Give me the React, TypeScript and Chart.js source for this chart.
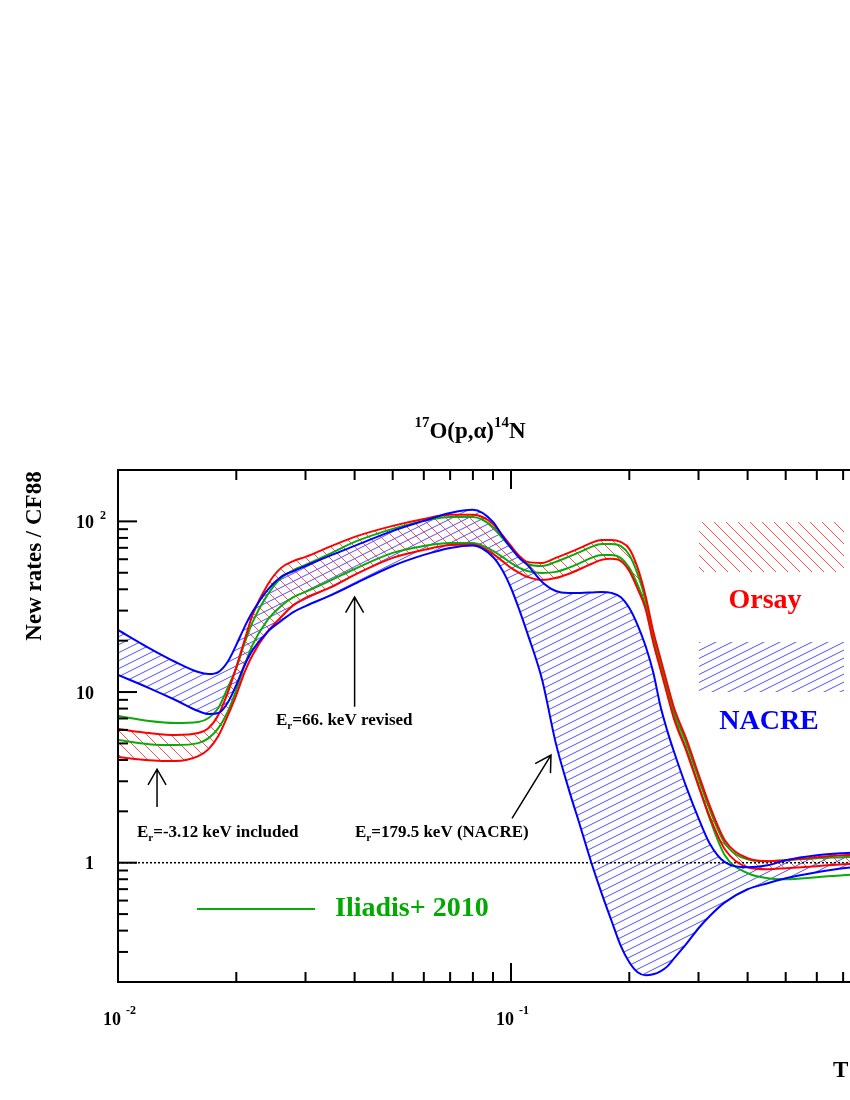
import React, { useEffect, useRef } from 'react';
import { Chart, registerables } from 'chart.js';

Chart.register(...registerables);

// Temperature grid (T9)
const temperatures = [
  0.01, 0.012, 0.014, 0.016, 0.017, 0.018, 0.019, 0.02,
  0.021, 0.022, 0.024, 0.026, 0.028, 0.03,
  0.035, 0.04, 0.05, 0.06, 0.07, 0.08, 0.09, 0.095,
  0.1, 0.105, 0.11, 0.12, 0.13, 0.14, 0.15, 0.16, 0.17, 0.18, 0.19,
  0.2, 0.21, 0.22, 0.23, 0.24, 0.25, 0.26, 0.28,
  0.3, 0.32, 0.35, 0.4, 0.45, 0.5, 0.6, 0.7, 0.8, 1.0,
];

const nacreUpper = [
  23.1, 18.1, 15.0, 13.1, 12.75, 13.1, 15.0, 18.9,
  24.1, 29.5, 39.6, 47.3, 51.2, 54.8,
  63.6, 71.8, 88.0, 100.7, 112, 117, 99.3, 82.2,
  69.9, 61.1, 55.6, 44.2, 39.1, 38.1, 38.1, 38.3, 38.6, 38.1, 36.1,
  31.1, 24.7, 18.6, 13.1, 8.28, 5.9, 4.45, 2.735,
  1.824, 1.301, 1.007, 0.941, 0.967, 1.034, 1.106, 1.137, 1.152, 1.168,
];

const nacreLower = [
  12.6, 10.55, 8.98, 7.74, 7.43, 7.53, 8.62, 11.0,
  14.4, 17.6, 22.5, 26.1, 29.5, 31.9,
  37.1, 43.0, 54.8, 63.6, 69.9, 72.3, 61.9, 51.9,
  40.7, 30.3, 22.2, 11.8, 5.02, 2.735, 1.637, 1.007, 0.663, 0.46, 0.328,
  0.261, 0.228, 0.219, 0.222, 0.231, 0.247, 0.275, 0.337,
  0.413, 0.486, 0.586, 0.699, 0.758, 0.811, 0.88, 0.928, 0.954, 0.98,
];

const orsayUpper = [
  6.07, 5.75, 5.6, 5.75, 6.15, 7.33, 9.86, 14.0,
  20.2, 28.3, 42.4, 53.4, 58.7, 61.9,
  71.8, 81.1, 94.1, 103.4, 109.2, 109.2, 96.7, 83.3,
  71.8, 62.8, 57.9, 57.1, 61.1, 65.4, 69.9, 74.8, 77.9, 77.9, 75.8,
  69.0, 53.4, 36.6, 22.8, 15.8, 11.1, 8.06, 5.23,
  3.3, 2.174, 1.355, 1.063, 1.02, 1.034, 1.077, 1.106, 1.122, 1.137,
];

const orsayLower = [
  4.16, 3.99, 3.94, 4.21, 4.63, 5.52, 7.23, 9.6,
  13.1, 16.5, 22.5, 27.5, 32.4, 35.6,
  41.3, 48.6, 61.1, 68.1, 72.8, 73.3, 64.5, 58.7,
  53.4, 49.9, 47.3, 45.4, 46.6, 49.2, 52.6, 56.3, 59.5, 60.3, 58.7,
  51.2, 40.2, 30.7, 19.6, 13.6, 9.6, 6.94, 4.45,
  2.81, 1.874, 1.2, 0.941, 0.916, 0.928, 0.954, 0.98, 0.993, 1.003,
];

const iliadisUpper = [
  7.23, 6.76, 6.58, 6.67, 7.04, 8.06, 10.55, 13.8,
  19.4, 25.7, 37.1, 46.6, 51.9, 55.6,
  65.4, 75.8, 90.4, 100.7, 106.2, 106.2, 92.8, 80.0,
  69.9, 61.1, 56.3, 54.8, 57.9, 61.9, 66.2, 70.9, 73.8, 73.8, 71.8,
  63.6, 49.2, 34.6, 21.6, 15.0, 10.55, 7.63, 4.95,
  3.13, 2.06, 1.301, 1.048, 1.02, 1.034, 1.063, 1.077, 1.092, 1.106,
];

const iliadisLower = [
  5.23, 4.95, 4.89, 5.02, 5.37, 6.15, 7.63, 10.3,
  14.4, 18.9, 26.4, 31.9, 36.1, 38.6,
  45.4, 52.6, 65.4, 71.8, 74.8, 74.8, 67.1, 61.9,
  57.1, 53.4, 51.2, 49.9, 50.6, 53.4, 57.1, 61.1, 63.6, 63.6, 61.1,
  53.4, 42.4, 31.9, 20.2, 14.0, 9.86, 7.13, 4.57,
  2.85, 1.824, 1.106, 0.868, 0.811, 0.8, 0.822, 0.845, 0.856, 0.88,
];

const referenceT = [0.01, 1];
const referenceRatio = [1, 1];

const xMajorTicks = [0.01, 0.1, 1];
const xMinorTicks = [0.02, 0.03, 0.04, 0.05, 0.06, 0.07, 0.08, 0.09, 0.2, 0.3, 0.4, 0.5, 0.6, 0.7, 0.8, 0.9];
const yMajorTicks = [1, 10, 100];
const yMinorTicks = [0.3, 0.4, 0.5, 0.6, 0.7, 0.8, 0.9, 2, 3, 4, 5, 6, 7, 8, 9, 20, 30, 40, 50, 60, 70, 80, 90];

const xTickLabels = [
  { value: 0.01, base: '10', exp: '-2' },
  { value: 0.1, base: '10', exp: '-1' },
  { value: 1, base: '10', exp: '0' },
];
const yTickLabels = [
  { value: 1, base: '1', exp: '' },
  { value: 10, base: '10', exp: '' },
  { value: 100, base: '10', exp: '2' },
];

// annotation arrows in data coordinates [T, ratio]
const arrowSpecs = [
  { from: [0.04, 8.2], to: [0.04, 36] },
  { from: [0.01257, 2.12], to: [0.01257, 3.53] },
  { from: [0.1006, 1.82], to: [0.1264, 4.27] },
];

const W = 1000;
const H = 1100;
const SERIF = '"Liberation Serif", "Times New Roman", serif';
const BLUE = '#0000ff';
const RED = '#ff0000';
const GREEN = '#0aaa0a';
const GREEN_TEXT = '#00aa00';

const font = (size: number) => `bold ${size}px ${SERIF}`;

function makeHatch(color: string, w: number, h: number, dir: 'up' | 'down'): CanvasPattern {
  const c = document.createElement('canvas');
  c.width = w;
  c.height = h;
  const g = c.getContext('2d') as CanvasRenderingContext2D;
  g.strokeStyle = color;
  g.lineWidth = 1;
  for (let k = -2; k <= 2; k++) {
    g.beginPath();
    if (dir === 'up') {
      g.moveTo(-w, 2 * h + k * h);
      g.lineTo(2 * w, -h + k * h);
    } else {
      g.moveTo(-w, -h + k * h);
      g.lineTo(2 * w, 2 * h + k * h);
    }
    g.stroke();
  }
  return g.createPattern(c, 'repeat') as CanvasPattern;
}

type Seg = { text: string; size: number; dy: number; gap?: number };

function segWidth(ctx: CanvasRenderingContext2D, segs: Seg[]) {
  let w = 0;
  for (const s of segs) {
    ctx.font = font(s.size);
    w += ctx.measureText(s.text).width + (s.gap ?? 0);
  }
  return w;
}

function drawSegs(ctx: CanvasRenderingContext2D, segs: Seg[], x: number, y: number) {
  let cx = x;
  ctx.textAlign = 'left';
  for (const s of segs) {
    ctx.font = font(s.size);
    cx += s.gap ?? 0;
    ctx.fillText(s.text, cx, y + s.dy);
    cx += ctx.measureText(s.text).width;
  }
}

function drawArrow(ctx: CanvasRenderingContext2D, x1: number, y1: number, x2: number, y2: number) {
  const ang = Math.atan2(y1 - y2, x1 - x2);
  const len = 18;
  const spread = Math.PI / 6;
  ctx.beginPath();
  ctx.moveTo(x1, y1);
  ctx.lineTo(x2, y2);
  ctx.moveTo(x2 + len * Math.cos(ang + spread), y2 + len * Math.sin(ang + spread));
  ctx.lineTo(x2, y2);
  ctx.lineTo(x2 + len * Math.cos(ang - spread), y2 + len * Math.sin(ang - spread));
  ctx.stroke();
}

export default function App() {
  const ref = useRef<HTMLCanvasElement>(null);

  useEffect(() => {
    const canvas = ref.current as HTMLCanvasElement;
    const blueHatch = makeHatch('rgb(80,80,255)', 16, 8, 'up');
    const redHatch = makeHatch('rgb(255,80,80)', 12, 12, 'down');

    const pts = (vals: number[]) => temperatures.map((t, i) => ({ x: t, y: vals[i] }));
    const line = (label: string, vals: number[], color: string, extra: any = {}) => ({
      label,
      data: pts(vals),
      borderColor: color,
      borderWidth: 2,
      pointRadius: 0,
      fill: false,
      cubicInterpolationMode: 'monotone',
      ...extra,
    });

    const decor = {
      id: 'decor',
      afterDraw(chart: any) {
        const ctx = chart.ctx as CanvasRenderingContext2D;
        const { left, top, right, bottom } = chart.chartArea;
        const xs = chart.scales.x;
        const ys = chart.scales.y;
        ctx.save();
        ctx.strokeStyle = '#000';
        ctx.lineWidth = 2;
        ctx.strokeRect(left, top, right - left, bottom - top);
        const seg = (a: number, b: number, c: number, d: number) => {
          ctx.beginPath();
          ctx.moveTo(a, b);
          ctx.lineTo(c, d);
          ctx.stroke();
        };
        for (const v of xMajorTicks) {
          const p = xs.getPixelForValue(v);
          seg(p, bottom, p, bottom - 19);
          seg(p, top, p, top + 19);
        }
        for (const v of xMinorTicks) {
          const p = xs.getPixelForValue(v);
          seg(p, bottom, p, bottom - 10);
          seg(p, top, p, top + 10);
        }
        for (const v of yMajorTicks) {
          const p = ys.getPixelForValue(v);
          seg(left, p, left + 19, p);
          seg(right, p, right - 19, p);
        }
        for (const v of yMinorTicks) {
          const p = ys.getPixelForValue(v);
          seg(left, p, left + 10, p);
          seg(right, p, right - 10, p);
        }

        ctx.fillStyle = '#000';
        ctx.textBaseline = 'alphabetic';
        for (const l of yTickLabels) {
          const p = ys.getPixelForValue(l.value);
          ctx.font = font(18);
          ctx.textAlign = 'right';
          ctx.fillText(l.base, left - 24, p + 6.7);
          if (l.exp) {
            ctx.font = font(12);
            ctx.textAlign = 'left';
            ctx.fillText(l.exp, left - 18, p - 2);
          }
        }
        for (const l of xTickLabels) {
          const p = xs.getPixelForValue(l.value);
          ctx.font = font(18);
          ctx.textAlign = 'right';
          ctx.fillText(l.base, p + 3, bottom + 43);
          ctx.font = font(12);
          ctx.textAlign = 'left';
          ctx.fillText(l.exp, p + 8, bottom + 32);
        }

        // title
        const title: Seg[] = [
          { text: '17', size: 15, dy: -11 },
          { text: 'O(p,α)', size: 23, dy: 0 },
          { text: '14', size: 15, dy: -11 },
          { text: 'N', size: 23, dy: 0 },
        ];
        drawSegs(ctx, title, 470 - segWidth(ctx, title) / 2, 438);

        // axis titles
        ctx.save();
        ctx.translate(41, 556);
        ctx.rotate(-Math.PI / 2);
        ctx.font = font(23);
        ctx.textAlign = 'center';
        ctx.fillText('New rates / CF88', 0, 0);
        ctx.restore();
        drawSegs(ctx, [
          { text: 'T', size: 23, dy: 0 },
          { text: '9', size: 15, dy: 5, gap: 4 },
        ], 833, 1077);

        // annotations
        const er = (rest: string): Seg[] => [
          { text: 'E', size: 17, dy: 0 },
          { text: 'r', size: 11, dy: 4 },
          { text: rest, size: 17, dy: 0 },
        ];
        drawSegs(ctx, er('=66. keV revised'), 276, 725);
        drawSegs(ctx, er('=-3.12 keV included'), 137, 837);
        drawSegs(ctx, er('=179.5 keV (NACRE)'), 355, 837);

        ctx.lineWidth = 1.5;
        ctx.strokeStyle = '#000';
        for (const a of arrowSpecs) {
          drawArrow(
            ctx,
            xs.getPixelForValue(a.from[0]),
            ys.getPixelForValue(a.from[1]),
            xs.getPixelForValue(a.to[0]),
            ys.getPixelForValue(a.to[1])
          );
        }

        // legend
        ctx.fillStyle = redHatch;
        ctx.fillRect(699, 522, 145, 50);
        ctx.fillStyle = blueHatch;
        ctx.fillRect(699, 642, 145, 50);
        ctx.font = font(28);
        ctx.textAlign = 'center';
        ctx.fillStyle = RED;
        ctx.fillText('Orsay', 765, 608);
        ctx.fillStyle = BLUE;
        ctx.fillText('NACRE', 769, 729);
        ctx.strokeStyle = GREEN;
        ctx.lineWidth = 2;
        seg(197, 909, 315, 909);
        ctx.fillStyle = GREEN_TEXT;
        ctx.textAlign = 'left';
        ctx.fillText('Iliadis+ 2010', 335, 916);
        ctx.restore();
      },
    };

    const chart = new Chart(canvas, {
      type: 'line',
      data: {
        datasets: [
          line('NACRE upper', nacreUpper, BLUE, { fill: '+1', backgroundColor: blueHatch }),
          line('NACRE lower', nacreLower, BLUE),
          line('Orsay upper', orsayUpper, RED, { fill: '+1', backgroundColor: redHatch }),
          line('Orsay lower', orsayLower, RED),
          line('Iliadis upper', iliadisUpper, GREEN),
          line('Iliadis lower', iliadisLower, GREEN),
          {
            label: 'CF88',
            data: referenceT.map((t, i) => ({ x: t, y: referenceRatio[i] })),
            borderColor: '#000',
            borderWidth: 1.5,
            borderDash: [2, 2],
            pointRadius: 0,
            fill: false,
          },
        ] as any,
      },
      options: {
        animation: false,
        responsive: false,
        devicePixelRatio: 1,
        events: [],
        layout: { padding: { left: 118, top: 470, right: W - 904, bottom: H - 982 } },
        plugins: {
          legend: { display: false },
          tooltip: { enabled: false },
          filler: { drawTime: 'beforeDatasetsDraw' },
        } as any,
        scales: {
          x: {
            type: 'logarithmic',
            min: 0.01,
            max: 1,
            ticks: { display: false },
            grid: { display: false, drawTicks: false },
            border: { display: false },
            afterFit: (s: any) => { s.height = 0; },
          },
          y: {
            type: 'logarithmic',
            min: 0.2,
            max: 200,
            ticks: { display: false },
            grid: { display: false, drawTicks: false },
            border: { display: false },
            afterFit: (s: any) => { s.width = 0; },
          },
        } as any,
      },
      plugins: [decor],
    });
    return () => chart.destroy();
  }, []);

  return (
    <div style={{ position: 'fixed', left: 0, top: 0, width: 850, height: 1100, overflow: 'hidden', background: '#fff' }}>
      <canvas
        ref={ref}
        width={W}
        height={H}
        style={{ position: 'absolute', left: 0, top: 0, width: W, height: H }}
      />
    </div>
  );
}
